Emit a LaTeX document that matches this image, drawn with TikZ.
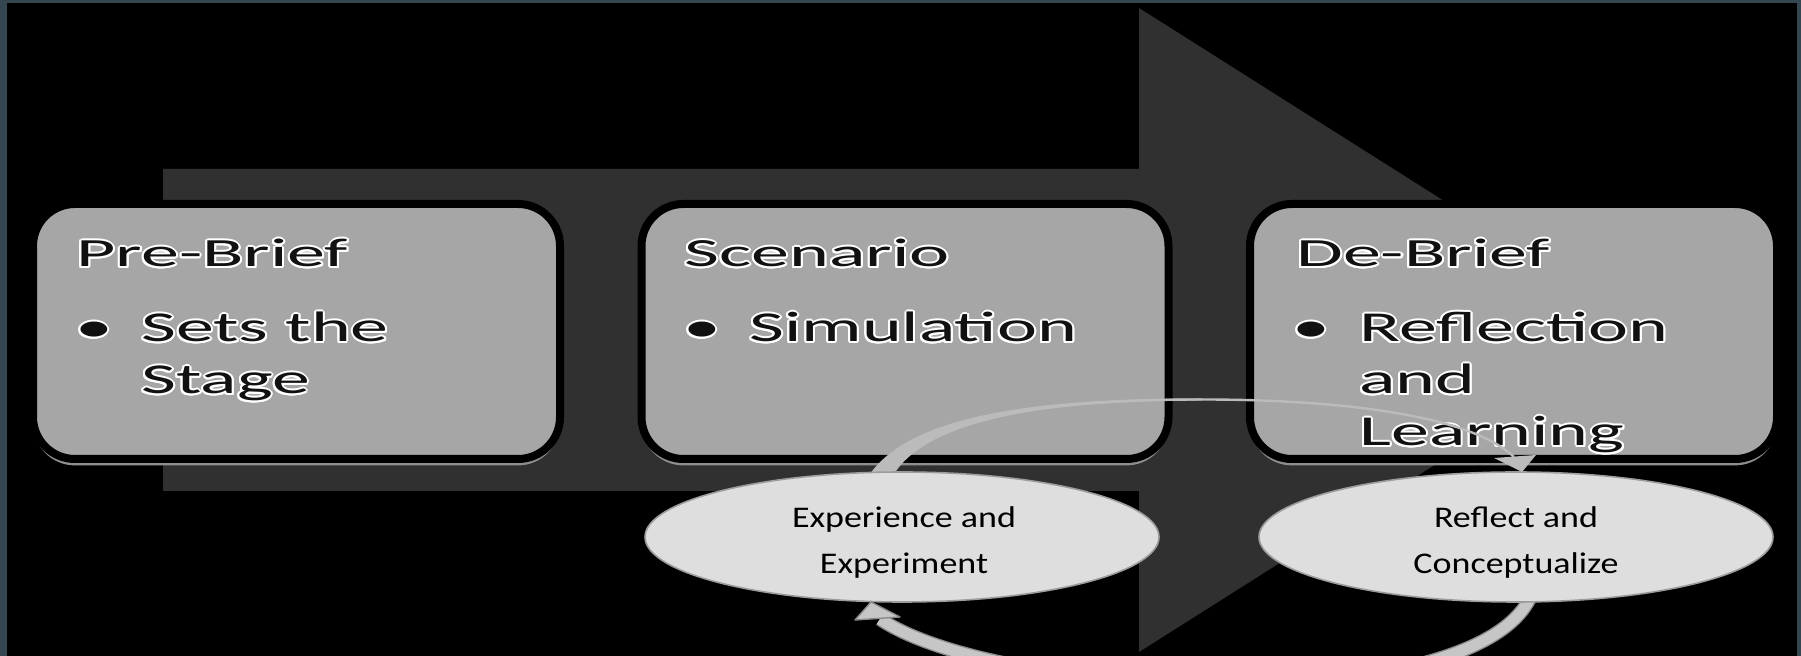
\documentclass[tikz,border=0pt]{standalone}
\usepackage{fontspec}
\setmainfont{Carlito}
\newfontfamily\titlefont[FakeStretch=1.9]{Carlito}
\newfontfamily\boxfont[FakeStretch=1.78]{Carlito}
\newfontfamily\ellfont[FakeStretch=1.2]{Carlito}
\usepackage{contour}
\contourlength{1pt}
\usetikzlibrary{shapes.geometric,shadows}
\definecolor{slate}{HTML}{344650}
\definecolor{bigarrow}{HTML}{303030}
\definecolor{boxgray}{HTML}{A6A6A6}
\definecolor{ellfill}{HTML}{DEDEDE}
\definecolor{elledge}{HTML}{9C9C9C}
\definecolor{arcgray}{HTML}{BBBBBB}
\definecolor{arcfill}{HTML}{C6C6C6}
\definecolor{arcedge}{HTML}{8A8A8A}
\definecolor{glowgray}{HTML}{8E8E8E}
\definecolor{ink}{HTML}{111111}
\tikzset{
  stagebox/.style={rectangle, rounded corners=21pt, fill=boxgray, draw=black,
    line width=4pt, minimum width=263.5pt, minimum height=127.5pt, inner sep=0pt,
    general shadow={fill=glowgray, shadow yshift=-3.2pt}},
  boxtitle/.style={anchor=base west, inner sep=0pt, text=ink,
    font=\titlefont\fontsize{20pt}{25pt}\selectfont},
  boxtext/.style={anchor=base west, inner sep=0pt, text=ink,
    font=\boxfont\fontsize{21.3pt}{26pt}\selectfont},
  bulletmark/.style={anchor=base, inner sep=0pt, text=ink,
    font=\boxfont\fontsize{21.3pt}{26pt}\selectfont},
  cyc/.style={ellipse, fill=ellfill, draw=elledge, line width=0.8pt,
    minimum width=257pt, minimum height=65pt, inner sep=0pt},
  cyctext/.style={align=center, inner sep=0pt, text=black,
    font=\ellfont\fontsize{15pt}{23pt}\selectfont},
  toparc/.style={draw=arcgray, line width=1.2pt},
  arcwedge/.style={fill=arcgray},
  botouter/.style={draw=arcedge, line width=7pt},
  botinner/.style={draw=arcfill, line width=5.6pt},
  tophead/.style={fill=arcgray},
  bothead/.style={fill=arcfill, draw=arcedge, line width=0.7pt, line join=round}
}
\begin{document}
\begin{tikzpicture}[x=0.5pt,y=-0.5pt]
\useasboundingbox (0,0) rectangle (1801,656);
% background
\fill[slate] (0,0) rectangle (1801,656);
\fill[black] (7,3) rectangle (1797,656);
% big arrow
\fill[bigarrow] (163,169) -- (1139,169) -- (1139,8) -- (1648,330) -- (1139,652)
  -- (1139,491) -- (163,491) -- cycle;
% stage boxes
\node[stagebox] (pre) at (296.5,331.5) {};
\node[stagebox] (scn) at (905,331.5) {};
\node[stagebox] (deb) at (1513.5,331.5) {};
% texts in boxes
\node[boxtitle] (preT) at (76,267) {\contour{white}{Pre-Brief}};
\node[bulletmark] (preB) at (94,342) {\contour{white}{•}};
\node[boxtext] (preL1) at (141,342) {\contour{white}{Sets the}};
\node[boxtext] (preL2) at (141,394) {\contour{white}{Stage}};
\node[boxtitle] (scnT) at (684,267) {\contour{white}{Scenario}};
\node[bulletmark] (scnB) at (702,342) {\contour{white}{•}};
\node[boxtext] (scnL1) at (749,342) {\contour{white}{Simulation}};
\node[boxtitle] (debT) at (1296,267) {\contour{white}{De-Brief}};
\node[bulletmark] (debB) at (1311,342) {\contour{white}{•}};
\node[boxtext] (debL1) at (1359,342) {\contour{white}{Reflection}};
\node[boxtext] (debL2) at (1359,394) {\contour{white}{and}};
\node[boxtext] (debL3) at (1359,446) {\contour{white}{Learning}};
% arc coordinates
\coordinate (topS) at (882,474);
\coordinate (topM) at (1202,399.5);
\coordinate (topB) at (1514,457);
\coordinate (topE) at (1522,472);
\coordinate (botS) at (1530,598);
\coordinate (botB) at (880,619);
\coordinate (botE) at (871,602);
% upper arc (tapered start)
\fill[arcwedge] (870,474) .. controls (916,408) and (1068,398.5) .. (1202,398.5)
  -- (1202,400.5) .. controls (1070,400.5) and (932,414) .. (894,474) -- cycle;
\draw[toparc] (topS) .. controls (925,412) and (1070,399.5) .. (topM)
  .. controls (1340,399.5) and (1470,415) .. (topB);
% lower arc
\draw[botouter] (botS) .. controls (1470,720) and (1000,700) .. (botB);
\draw[botinner] (botS) .. controls (1470,720) and (1000,700) .. (botB);
% ellipses
\node[cyc] (exp) at (902,537) {};
\node[cyc] (refl) at (1516,537) {};
\node[cyctext] (expT) at (904,543) {Experience and\\Experiment};
\node[cyctext] (reflT) at (1516,543) {Reflect and\\Conceptualize};
% arrowheads
\fill[tophead] (topE) -- (1494,458) -- (1536,455) -- cycle;
\filldraw[bothead] (botE) -- (855,620) -- (900,617) -- cycle;
\end{tikzpicture}
\end{document}
